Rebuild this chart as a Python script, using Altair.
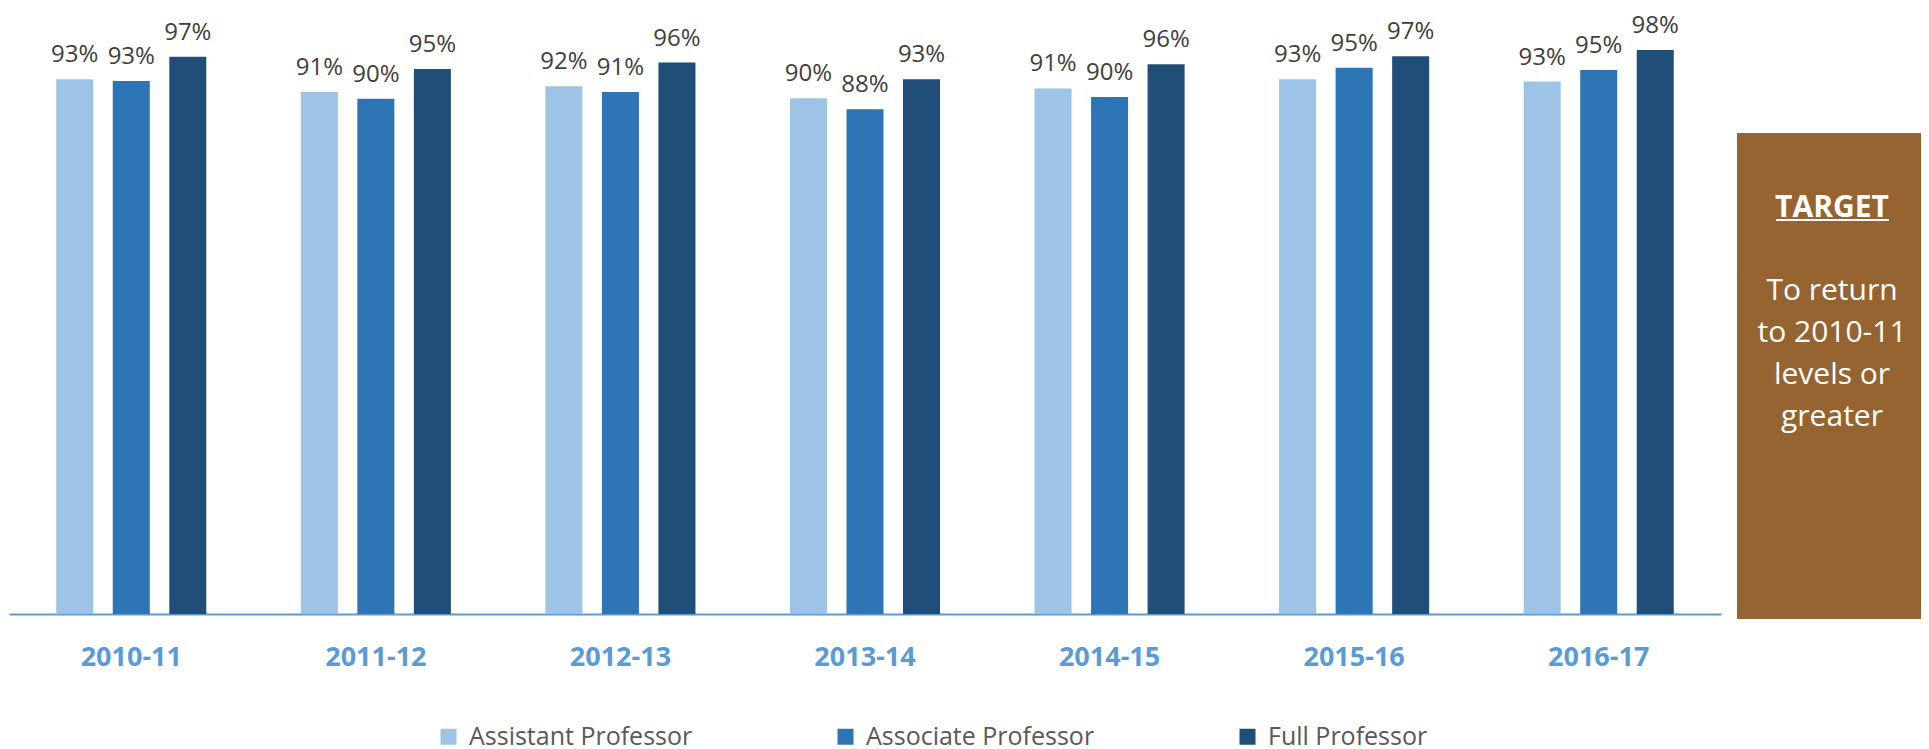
import altair as alt
import pandas as pd

years = ["2010-11", "2011-12", "2012-13", "2013-14", "2014-15", "2015-16", "2016-17"]
series = ["Assistant Professor", "Associate Professor", "Full Professor"]
assistant = [93.0, 90.8, 91.8, 89.7, 91.4, 93.0, 92.6]
associate = [92.7, 89.6, 90.8, 87.8, 89.9, 95.0, 94.6]
full = [96.9, 94.8, 95.9, 93.0, 95.6, 97.0, 98.1]
colors = ["#9DC3E6", "#2E75B6", "#1F4E79"]

target_title = "TARGET"
target_lines = ["To return", "to 2010-11", "levels or", "greater"]

rows = []
for s, vals in zip(series, [assistant, associate, full]):
    for y, v in zip(years, vals):
        rows.append({"year": y, "rank": s, "value": v / 100.0})
df = pd.DataFrame(rows)

FONT = "Open Sans"

base = alt.Chart(df).encode(
    x=alt.X("year:N", sort=years, title=None,
            scale=alt.Scale(paddingInner=0, paddingOuter=0),
            axis=alt.Axis(labelAngle=0, ticks=False, grid=False, domainColor="#5B9BD5",
                          domainWidth=2, labelFont=FONT, labelFontWeight="bold",
                          labelFontSize=27, labelColor="#5B9BD5", labelPadding=30)),
    xOffset=alt.XOffset("rank:N", sort=series,
                        scale=alt.Scale(paddingInner=0.345, paddingOuter=0.836)),
    y=alt.Y("value:Q", axis=None, scale=alt.Scale(domain=[0, 606 / 575], nice=False, zero=True)),
)

bars = base.mark_bar().encode(
    color=alt.Color("rank:N", sort=series,
                    scale=alt.Scale(domain=series, range=colors),
                    legend=alt.Legend(orient="none", legendX=427, legendY=716,
                                      direction="horizontal", title=None,
                                      symbolType="square", symbolSize=256,
                                      symbolStrokeWidth=0, labelFont=FONT,
                                      labelFontSize=25, labelColor="#595959",
                                      labelLimit=1000,
                                      columnPadding=140, labelOffset=8)),
)

labels = base.mark_text(font=FONT, fontSize=24, color="#404040", baseline="alphabetic",
                        dy=-17).encode(text=alt.Text("value:Q", format=".0%"))

one = pd.DataFrame({"k": [0]})
box = alt.Chart(one).mark_rect(color="#966431").encode(
    x=alt.value(1728), x2=alt.value(1912), y=alt.value(125), y2=alt.value(611))
title_txt = alt.Chart(one).mark_text(text=target_title, font=FONT, fontWeight="bold",
                                     fontSize=30, color="white", align="center",
                                     baseline="alphabetic").encode(
    x=alt.value(1823), y=alt.value(209))
underline = alt.Chart(one).mark_rule(color="white", strokeWidth=2).encode(
    x=alt.value(1767), x2=alt.value(1880), y=alt.value(212))
body_txt = alt.Chart(one).mark_text(text=target_lines, font=FONT, fontSize=30,
                                    color="white", align="center", baseline="alphabetic",
                                    lineHeight=42).encode(
    x=alt.value(1823), y=alt.value(292))

chart = alt.layer(bars, labels, box, title_txt, underline, body_txt).properties(
    width=1712, height=606,
    padding={"left": 1, "top": 0, "right": 200, "bottom": 139},
    autosize=alt.AutoSizeParams(type="none"),
    background="white",
).configure_view(stroke=None)

chart.save("out.html", embed_options={"renderer": "svg", "actions": False})
